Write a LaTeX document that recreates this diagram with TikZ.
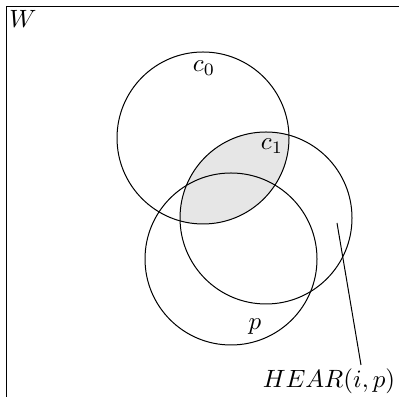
\documentclass[tikz,border=0pt]{standalone}
\usepackage{amsmath,amssymb}
\usepackage{xcolor}
\usetikzlibrary{positioning,calc}
\definecolor{lensGray}{HTML}{E6E6E6}

\begin{document}
\begin{tikzpicture}[
    x=0.4pt, y=-0.4pt,
    ball/.style={draw, circle, minimum size=68.8pt, inner sep=0pt},
    lbl/.style={inner sep=1pt}
  ]
  \useasboundingbox (0,0) rectangle (399,397);
  \clip (0,0) rectangle (399,397);
  \draw (6.5,6.5) rectangle (430,430);

  % shaded c0 and c1 overlap
  \begin{scope}
    \clip (203,138) circle (86);
    \fill[lensGray] (266,218) circle (86);
  \end{scope}

  \node[ball] (c0) at (203,138) {};
  \node[ball] (c1) at (266,218) {};
  \node[ball] (p)  at (231,259) {};

  \node[lbl] (w)    at (23,19)   {$W$};
  \node[lbl] (c0l)  at (204,68)  {$c_0$};
  \node[lbl] (c1l)  at (272,146) {$c_1$};
  \node[lbl] (pl)   at (255,327) {$p$};
  \node[lbl] (hear) at (329,381) {$HEAR(i,p)$};

  \coordinate (tip)  at (337,223);
  \coordinate (foot) at (361,365);
  \draw (tip) -- (foot);
\end{tikzpicture}
\end{document}
